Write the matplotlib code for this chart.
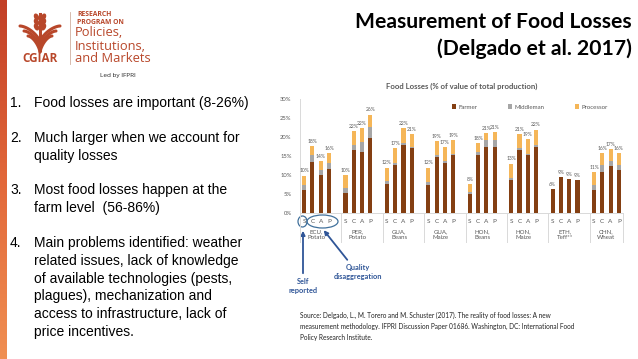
import matplotlib.pyplot as plt
import numpy as np
from matplotlib.patches import Ellipse, FancyArrowPatch
from matplotlib.lines import Line2D
from matplotlib.colors import LinearSegmentedColormap

# chart data (% of value of total production)
groups = ['ECU,\nPotato', 'PER,\nPotato', 'GUA,\nBeans', 'GUA,\nMaize',
          'HON,\nBeans', 'HON,\nMaize', 'ETH,\nTeff**', 'CHN,\nWheat']
methods = ['S', 'C', 'A', 'P']
farmer = [6.0, 13.5, 9.9, 11.5,  5.3, 16.5, 16.0, 19.8,  7.7, 12.7, 18.0, 17.0,
          7.5, 14.8, 13.2, 15.2,  4.9, 15.2, 17.4, 17.3,  8.6, 16.5, 15.2, 17.3,
          6.2, 9.4, 8.9, 8.6,  6.0, 10.8, 12.3, 11.3]
middleman = [1.5, 1.7, 1.4, 1.7,  1.3, 1.4, 2.7, 2.8,  0.8, 0.5, 0.4, 0.4,
             0.7, 0.4, 0.4, 0.4,  0.6, 0.9, 1.8, 1.8,  0.6, 0.5, 0.3, 0.6,
             0.0, 0.0, 0.0, 0.0,  1.5, 1.8, 1.4, 1.3]
processor = [2.3, 2.4, 2.4, 2.6,  3.3, 3.6, 3.7, 3.3,  3.4, 3.8, 3.9, 3.3,
             3.7, 3.7, 3.7, 3.6,  2.1, 2.2, 1.9, 2.1,  3.8, 3.8, 3.9, 4.0,
             0.0, 0.0, 0.0, 0.0,  3.2, 3.1, 3.1, 3.2]
total_labels = ['10%', '18%', '14%', '16%', '10%', '22%', '22%', '26%',
                '12%', '17%', '22%', '21%', '12%', '19%', '17%', '19%',
                '8%', '18%', '21%', '21%', '13%', '21%', '19%', '22%',
                '6%', '9%', '9%', '9%', '11%', '16%', '17%', '16%']

bullets = [
    ('1.', ['Food losses are important (8-26%)']),
    ('2.', ['Much larger when we account for', 'quality losses']),
    ('3.', ['Most food losses happen at the', 'farm level  (56-86%)']),
    ('4.', ['Main problems identified: weather',
            'related issues, lack of knowledge',
            'of available technologies (pests,',
            'plagues), mechanization and',
            'access to infrastructure, lack of',
            'price incentives.']),
]
source = ('Source: Delgado, L., M. Torero and M. Schuster (2017). The reality of food losses: A new\n'
          'measurement methodology. IFPRI Discussion Paper 01686. Washington, DC: International Food\n'
          'Policy Research Institute.')

c_farmer = '#843f12'
c_mid = '#a6a6a6'
c_proc = '#f5b658'
c_logo = '#b8472a'
c_blue = '#2f5597'
grey = '#595959'

W, H = 638, 359
fig = plt.figure(figsize=(W / 100, H / 100), dpi=100)

# slide overlay in pixel coordinates
ov = fig.add_axes([0, 0, 1, 1])
ov.set_xlim(0, W)
ov.set_ylim(H, 0)
ov.axis('off')

# orange strip on left
grad = np.linspace(0, 1, 200).reshape(-1, 1)
strip_cmap = LinearSegmentedColormap.from_list('strip', ['#c23f26', '#e2683a', '#f08f52'])
ov.imshow(grad, cmap=strip_cmap, extent=[0, 7, H, 0], aspect='auto')

# logo
t = np.linspace(0, 1, 40)
for w, top in [(20, 26), (16, 31), (12, 36)]:
    for s in (-1, 1):
        xs = 40 + s * w * (1 - t) ** 1.3
        ys = top + 16 * t ** 1.6
        ov.plot(xs, ys, color=c_logo, lw=2.2, solid_capstyle='round')
ov.plot([40, 40], [14, 50], color=c_logo, lw=2.2)
for yy in (17, 22, 27):
    ov.add_patch(Ellipse((36.5, yy), 3.5, 6, angle=-25, color=c_logo))
    ov.add_patch(Ellipse((43.5, yy), 3.5, 6, angle=25, color=c_logo))
ov.text(40, 59, 'CGIAR', ha='center', va='center', fontsize=8.5,
        fontweight='bold', color=c_logo, family='Open Sans')
ov.plot([70, 70], [12, 64], color='#d0b0a0', lw=0.6)
ov.text(77, 14, 'RESEARCH', fontsize=4.9, fontweight='bold', color=c_logo,
        va='center', family='Open Sans')
ov.text(77, 22, 'PROGRAM ON', fontsize=4.9, fontweight='bold', color=c_logo,
        va='center', family='Open Sans')
for yy, txt in [(33, 'Policies,'), (46, 'Institutions,'), (59, 'and Markets')]:
    ov.text(75, yy, txt, fontsize=9.3, color=c_logo, va='center', family='Open Sans')
ov.text(100, 75, 'Led by IFPRI', fontsize=4.6, color='#222222', va='center',
        family='Open Sans')

# title
ov.text(632, 22, 'Measurement of Food Losses', ha='right', va='center',
        fontsize=15.2, fontweight='bold', family='Lato', color='black')
ov.text(632, 49, '(Delgado et al. 2017)', ha='right', va='center',
        fontsize=15.2, fontweight='bold', family='Lato', color='black')

# bullet list
line_h = 17.8
y = 103
for num, lines in bullets:
    ov.text(10, y, num, fontsize=10, va='center', family='Liberation Sans')
    for i, ln in enumerate(lines):
        ov.text(34, y + i * line_h, ln, fontsize=10, va='center', family='Liberation Sans')
    y += len(lines) * line_h + 17

# source
ov.text(300, 326, source, fontsize=4.7, va='center', ha='left', family='Lato',
        color='#222222', linespacing=1.65)

# chart
ax = fig.add_axes([300 / W, 1 - 213 / H, 323 / W, 114 / H])
ax.set_facecolor('none')
pos = np.array([5 * g + j for g in range(len(groups)) for j in range(len(methods))])
farmer = np.array(farmer)
middleman = np.array(middleman)
processor = np.array(processor)
ax.bar(pos, farmer, width=0.5, color=c_farmer, label='Farmer')
ax.bar(pos, middleman, width=0.5, bottom=farmer, color=c_mid, label='Middleman')
ax.bar(pos, processor, width=0.5, bottom=farmer + middleman, color=c_proc, label='Processor')
tops = farmer + middleman + processor
for x, tp, lab in zip(pos, tops, total_labels):
    ax.text(x, tp + 0.6, lab, ha='center', va='bottom', fontsize=3.6,
            color=grey, family='Lato')

ax.set_xlim(-0.5, 5 * len(groups) - 1.5)
ax.set_ylim(0, 30)
ax.set_yticks(range(0, 31, 5))
ax.set_yticklabels([f'{v}%' for v in range(0, 31, 5)], fontsize=4.2, color=grey, family='Lato')
ax.set_xticks(pos)
ax.set_xticklabels(methods * len(groups), fontsize=4.6, color=grey, family='Lato')
ax.tick_params(axis='both', length=0)
ax.tick_params(axis='x', pad=4)
ax.tick_params(axis='y', pad=6)
for sp in ['top', 'right']:
    ax.spines[sp].set_visible(False)
for sp in ['left', 'bottom']:
    ax.spines[sp].set_color('#d9d9d9')
    ax.spines[sp].set_linewidth(0.7)

trans = ax.get_xaxis_transform()
for g in range(len(groups) + 1):
    xs = 5 * g - 0.5 if g < len(groups) else 5 * len(groups) - 1.5
    ax.add_line(Line2D([xs, xs], [0, -0.255], transform=trans, color='#d9d9d9',
                       lw=0.7, clip_on=False))
for g, name in enumerate(groups):
    ax.text(5 * g + 1.5, -0.19, name, transform=trans, ha='center', va='center',
            fontsize=4.4, color=grey, family='Lato', linespacing=1.3)

ax.set_title('Food Losses (% of value of total production)', fontsize=5.6,
             color=grey, family='Lato', fontweight='bold', pad=7)
ax.legend(loc='center', bbox_to_anchor=(0.712, 0.93), ncol=3, frameon=False,
          handlelength=0.7, handleheight=0.7, columnspacing=5,
          handletextpad=0.4, labelcolor=grey, prop={'family': 'Lato', 'size': 4.4})

# annotations
ov.add_patch(Ellipse((302.5, 221.5), 9, 11, fill=False, ec='#41719c', lw=0.9))
ov.add_patch(Ellipse((322.5, 221.5), 31, 13, fill=False, ec='#41719c', lw=0.9))
ov.add_patch(FancyArrowPatch((303, 276), (303, 228), arrowstyle='-|>',
                             mutation_scale=6, color=c_blue, lw=1.3))
ov.add_patch(FancyArrowPatch((349, 262), (322, 228), arrowstyle='-|>',
                             mutation_scale=6, color=c_blue, lw=1.3))
ov.text(303, 286, 'Self\nreported', ha='center', va='center', fontsize=5.3,
        color=c_blue, fontweight='bold', family='Lato', linespacing=1.4)
ov.text(358, 272, 'Quality\ndisaggregation', ha='center', va='center', fontsize=5.3,
        color=c_blue, fontweight='bold', family='Lato', linespacing=1.4)

fig.savefig('out.png', dpi=100)
